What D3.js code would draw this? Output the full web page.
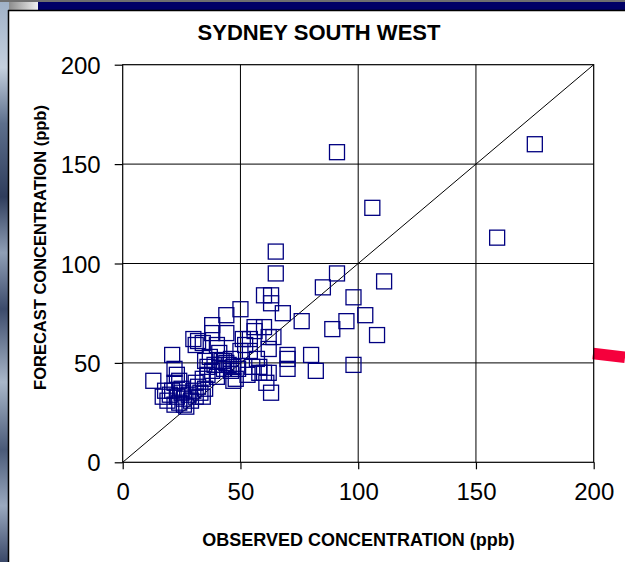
<!DOCTYPE html>
<html>
<head>
<meta charset="utf-8">
<script src="https://cdn.jsdelivr.net/npm/d3@7"></script>
<style>
  html, body { margin: 0; padding: 0; background: #fff; }
  svg { display: block; font-family: "Liberation Sans", Arial, sans-serif; }
</style>
</head>
<body>
<div id="chart"></div>
<script>
// Chart text
const chartTitle = "SYDNEY SOUTH WEST";
const xTitle = "OBSERVED CONCENTRATION (ppb)";
const yTitle = "FORECAST CONCENTRATION (ppb)";

// Axis ticks (ppb)
const xTicks = [0, 50, 100, 150, 200];
const yTicks = [0, 50, 100, 150, 200];

// Observed vs forecast concentrations (ppb)
const observed = [
  13, 17, 18, 19, 20, 21, 21, 22, 22, 22, 23, 23, 24, 24, 25, 25, 26, 26, 27, 28,
  29, 30, 30, 31, 31, 31, 32, 32, 33, 34, 34, 34, 35, 35, 36, 36, 37, 38, 38, 38,
  39, 40, 40, 41, 41, 42, 43, 43, 44, 44, 44, 45, 46, 46, 47, 47, 48, 49, 50, 50,
  51, 52, 53, 54, 54, 55, 56, 56, 57, 58, 58, 60, 60, 60, 61, 62, 62, 62, 63, 63,
  63, 64, 65, 65, 68, 70, 70, 70, 76, 80, 82, 85, 89, 91, 91, 95, 98, 98, 103, 106,
  108, 111, 159, 175
];
const forecast = [
  41, 33, 36, 31, 34, 36, 54, 29, 40, 47, 33, 44, 30, 41, 37, 35, 32, 29, 28, 34,
  31, 36, 62, 33, 40, 59, 38, 61, 35, 33, 42, 60, 37, 51, 44, 48, 53, 46, 65, 69,
  49, 43, 59, 49, 55, 51, 47, 51, 50, 74, 65, 49, 46, 52, 41, 48, 42, 47, 77, 56,
  62, 59, 44, 56, 62, 48, 66, 68, 52, 48, 45, 68, 45, 84, 40, 63, 57, 45, 35, 84,
  80, 63, 106, 95, 75, 54, 52, 47, 71, 54, 46, 88, 67, 95, 156, 71, 83, 49, 74, 128,
  64, 91, 113, 160
];

// 1:1 reference line
const refLine = [[0, 0], [200, 200]];

const W = 625, H = 562;
const svg = d3.select("#chart").append("svg")
  .attr("width", W)
  .attr("height", H);

// --- slide background ---
const defs = svg.append("defs");
const sky = defs.append("linearGradient")
  .attr("id", "sky").attr("x1", 0).attr("y1", 0).attr("x2", 0).attr("y2", 1);
[["0", "#9fb0c6"], ["0.12", "#c4d0de"], ["0.22", "#5d6f8c"], ["0.35", "#2f3d5c"],
 ["0.45", "#8f9fb6"], ["0.55", "#3c4b6b"], ["0.68", "#a9b7c9"], ["0.8", "#4a5a78"],
 ["0.9", "#9aa9bf"], ["1", "#3a4868"]].forEach(([o, c]) =>
  sky.append("stop").attr("offset", o).attr("stop-color", c));
const corner = defs.append("linearGradient")
  .attr("id", "corner").attr("x1", 0).attr("y1", 0).attr("x2", 1).attr("y2", 0);
corner.append("stop").attr("offset", "0").attr("stop-color", "#8c8c8c");
corner.append("stop").attr("offset", "1").attr("stop-color", "#f4f4f4");

svg.append("rect").attr("x", 0).attr("y", 0).attr("width", 9).attr("height", H).attr("fill", "url(#sky)");
svg.append("rect").attr("x", 0).attr("y", 0).attr("width", W).attr("height", 2).attr("fill", "#6f6f6f");
svg.append("rect").attr("x", 9).attr("y", 2).attr("width", 30).attr("height", 8).attr("fill", "url(#corner)");
svg.append("rect").attr("x", 38).attr("y", 2).attr("width", W - 38).attr("height", 8).attr("fill", "#000066");
svg.append("line").attr("x1", 8).attr("y1", 10.5).attr("x2", W).attr("y2", 10.5).attr("stroke", "#000").attr("stroke-width", 1.5);
svg.append("line").attr("x1", 8.5).attr("y1", 10).attr("x2", 8.5).attr("y2", H).attr("stroke", "#000").attr("stroke-width", 1.5);

// red pointer line on the right edge
svg.append("line")
  .attr("x1", 593).attr("y1", 353.5).attr("x2", 625).attr("y2", 357.2)
  .attr("stroke", "#f5003c").attr("stroke-width", 11.5);

// --- plot ---
const x = d3.scaleLinear().domain([0, 200]).range([122.7, 593.7]);
const y = d3.scaleLinear().domain([0, 200]).range([462.3, 64.7]);

const plot = svg.append("g");

// grid lines
plot.append("g")
  .selectAll("line")
  .data(xTicks.slice(1, -1))
  .join("line")
  .attr("x1", d => x(d)).attr("x2", d => x(d))
  .attr("y1", y(0)).attr("y2", y(200))
  .attr("stroke", "#000").attr("stroke-width", 1);
plot.append("g")
  .selectAll("line")
  .data(yTicks.slice(1, -1))
  .join("line")
  .attr("y1", d => y(d)).attr("y2", d => y(d))
  .attr("x1", x(0)).attr("x2", x(200))
  .attr("stroke", "#000").attr("stroke-width", 1);

// 1:1 line
plot.append("path")
  .datum(refLine)
  .attr("d", d3.line().x(d => x(d[0])).y(d => y(d[1])))
  .attr("fill", "none")
  .attr("stroke", "#000")
  .attr("stroke-width", 1);

// frame
plot.append("rect")
  .attr("x", x(0)).attr("y", y(200))
  .attr("width", x(200) - x(0)).attr("height", y(0) - y(200))
  .attr("fill", "none").attr("stroke", "#000").attr("stroke-width", 1.2);

// points as hollow squares
const pts = observed.map((o, i) => ({ o, f: forecast[i] }));
const sq = 15;
plot.append("g")
  .selectAll("rect")
  .data(pts)
  .join("rect")
  .attr("x", d => x(d.o) - sq / 2)
  .attr("y", d => y(d.f) - sq / 2)
  .attr("width", sq).attr("height", sq)
  .attr("fill", "none")
  .attr("stroke", "#000080")
  .attr("stroke-width", 1.3);

// axes
const xAxis = svg.append("g")
  .attr("transform", `translate(0,${y(0)})`)
  .call(d3.axisBottom(x).tickValues(xTicks).tickSize(7).tickPadding(14));
const yAxis = svg.append("g")
  .attr("transform", `translate(${x(0)},0)`)
  .call(d3.axisLeft(y).tickValues(yTicks).tickSize(8).tickPadding(14));
[xAxis, yAxis].forEach(a => {
  a.select(".domain").remove();
  a.selectAll(".tick line").attr("stroke", "#000").attr("stroke-width", 1.2);
  a.selectAll(".tick text")
    .attr("fill", "#000")
    .style("font-family", "'Liberation Sans', Arial, sans-serif")
    .style("font-size", "24px");
});
yAxis.selectAll(".tick text").attr("dy", "0.36em");

// titles
svg.append("text")
  .attr("x", 319).attr("y", 40)
  .attr("text-anchor", "middle")
  .style("font-size", "22px").style("font-weight", "bold")
  .text(chartTitle);
svg.append("text")
  .attr("x", 358.5).attr("y", 546)
  .attr("text-anchor", "middle")
  .style("font-size", "18px").style("font-weight", "bold")
  .text(xTitle);
svg.append("text")
  .attr("transform", "translate(46,247.5) rotate(-90)")
  .attr("text-anchor", "middle")
  .style("font-size", "16.5px").style("font-weight", "bold")
  .text(yTitle);
</script>
</body>
</html>
